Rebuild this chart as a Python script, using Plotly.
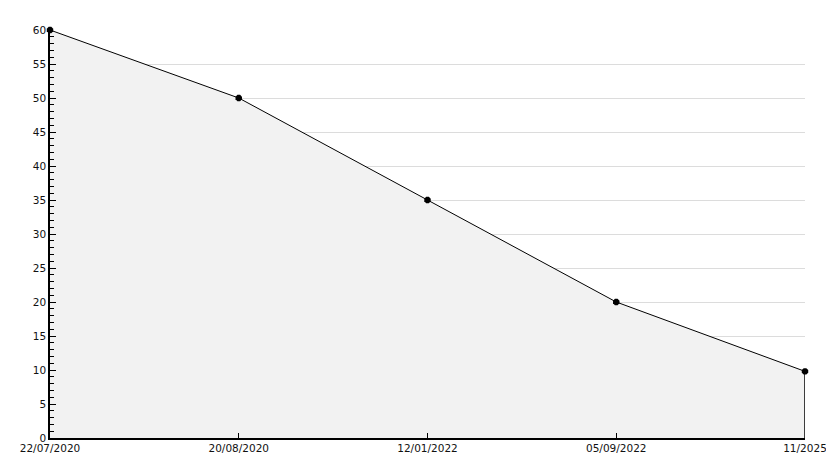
import plotly.graph_objects as go

dates = ["22/07/2020", "20/08/2020", "12/01/2022", "05/09/2022", "11/2025"]
values = [60, 50, 35, 20, 9.8]
y_ticks = list(range(0, 61, 5))

xs = list(range(len(dates)))

fig = go.Figure()
fig.add_trace(go.Scatter(
    x=xs, y=values, mode="lines+markers",
    fill="tozeroy", fillcolor="#f2f2f2",
    line=dict(color="black", width=1),
    marker=dict(symbol="octagon", size=7, color="black"),
    showlegend=False, hoverinfo="skip", cliponaxis=False,
))
# right edge of filled area
fig.add_trace(go.Scatter(
    x=[xs[-1], xs[-1]], y=[0, values[-1]], mode="lines",
    line=dict(color="black", width=1.5), showlegend=False, hoverinfo="skip",
    cliponaxis=False,
))

font = dict(family="DejaVu Sans", size=10.5, color="#111")
fig.update_layout(
    width=826, height=460,
    margin=dict(l=42, r=29, t=22, b=30),
    paper_bgcolor="white", plot_bgcolor="white",
    font=font,
    xaxis=dict(
        range=[0, len(dates) - 1], tickmode="array", tickvals=xs, ticktext=dates,
        showgrid=False, zeroline=False, showline=True, linecolor="black", linewidth=1.5,
        ticks="inside", ticklen=5, tickcolor="black", tickfont=font, automargin=False,
    ),
    yaxis=dict(
        range=[0, 60], tickmode="array", tickvals=y_ticks,
        showgrid=True, gridcolor="#dcdcdc", gridwidth=1,
        zeroline=False, showline=True, linecolor="black", linewidth=1.5,
        ticks="inside", ticklen=6, tickcolor="black", tickfont=font, automargin=False,
        minor=dict(dtick=1, ticks="inside", ticklen=4, tickcolor="black", showgrid=False),
    ),
)
fig.write_html("out.html")
